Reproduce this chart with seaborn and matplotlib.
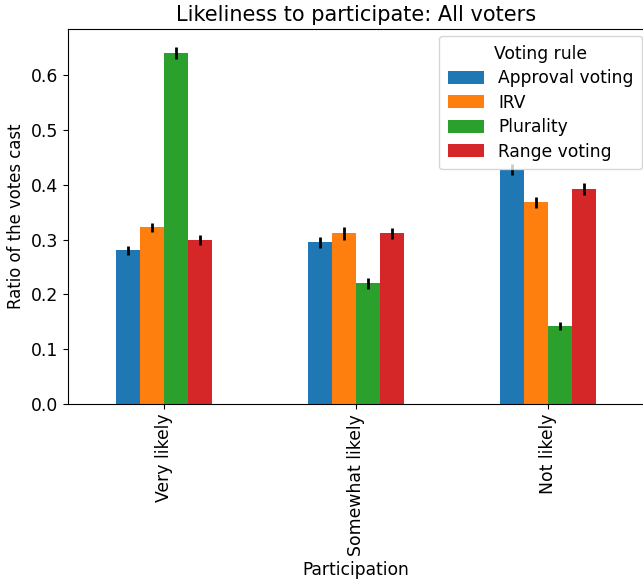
import matplotlib
matplotlib.use("Agg")
import matplotlib.pyplot as plt
import seaborn as sns
import pandas as pd
import numpy as np

categories = ["Very likely", "Somewhat likely", "Not likely"]
rules = ["Approval voting", "IRV", "Plurality", "Range voting"]
approval = [0.280, 0.295, 0.427]
irv = [0.322, 0.311, 0.368]
plurality = [0.640, 0.220, 0.142]
range_voting = [0.299, 0.311, 0.392]
approval_err = [0.009, 0.0097, 0.010]
irv_err = [0.009, 0.011, 0.0103]
plurality_err = [0.0116, 0.0097, 0.0076]
range_err = [0.0097, 0.010, 0.0103]

values = [approval, irv, plurality, range_voting]
errors = [approval_err, irv_err, plurality_err, range_err]

rows = []
for r, vals in zip(rules, values):
    for c, v in zip(categories, vals):
        rows.append({"Participation": c, "ratio": v, "Voting rule": r})
df = pd.DataFrame(rows)

colors = ["#1f77b4", "#ff7f0e", "#2ca02c", "#d62728"]

fig = plt.figure(figsize=(6.43, 5.81), dpi=100)
ax = fig.add_axes([68/643, (581-404)/581, (644-68)/643, (404-29)/581])

sns.barplot(data=df, x="Participation", y="ratio", hue="Voting rule",
            order=categories, hue_order=rules, palette=colors,
            saturation=1, width=0.5, errorbar=None, ax=ax)

for cont, errs in zip(ax.containers, errors):
    xs = [p.get_x() + p.get_width() / 2 for p in cont.patches]
    ys = [p.get_height() for p in cont.patches]
    ax.errorbar(xs, ys, yerr=errs, fmt="none", ecolor="black", elinewidth=2, capsize=0)

ax.set_xlim(-0.5, 2.5)
ax.set_ylim(0, 0.684)
ax.set_yticks(np.arange(0, 0.61, 0.1))
ax.tick_params(axis="both", labelsize=12.4)
ax.tick_params(axis="x", labelrotation=90)
ax.set_xlabel("Participation", fontsize=12.3)
ax.set_ylabel("Ratio of the votes cast", fontsize=11.9)
ax.set_title("Likeliness to participate: All voters", fontsize=15)
for s in ax.spines.values():
    s.set_visible(True)
    s.set_color("black")

leg = ax.legend(title="Voting rule", loc="upper right", fontsize=12.3, title_fontsize=12.3,
                bbox_to_anchor=(642/643, 1 - 36/581), bbox_transform=fig.transFigure,
                borderaxespad=0, labelspacing=0.38, handleheight=0.8,
                handlelength=2.15, borderpad=0.5)

fig.savefig("out.png", dpi=100)
